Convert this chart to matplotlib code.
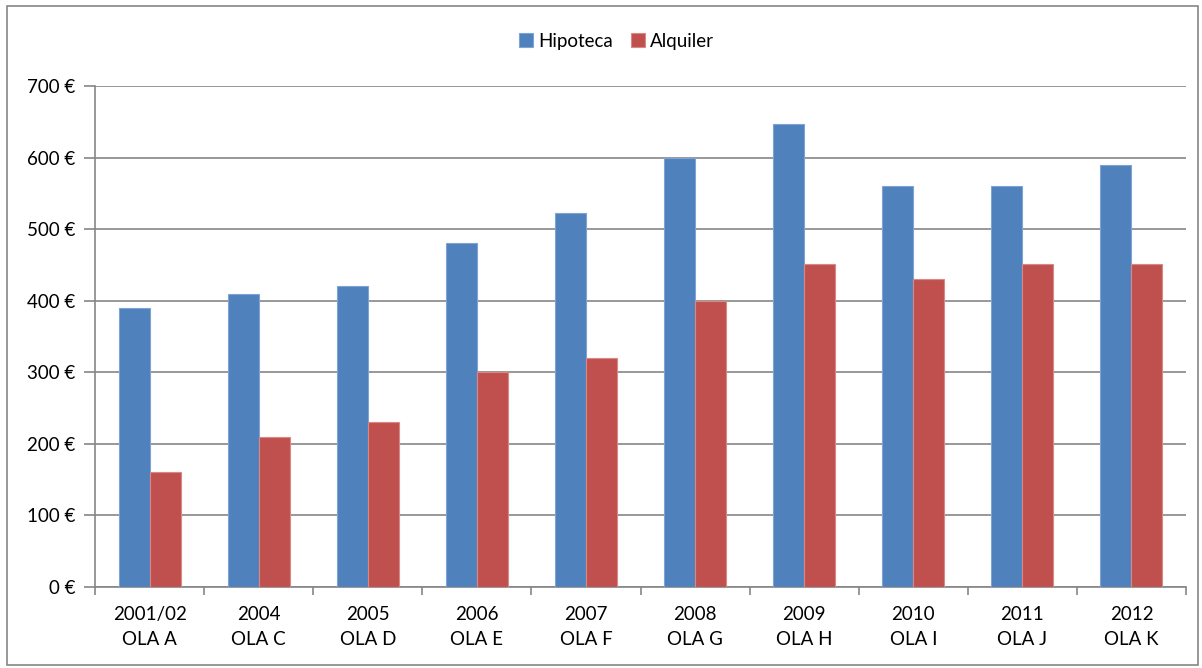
import numpy as np
import matplotlib
matplotlib.use("Agg")
import matplotlib.pyplot as plt
from matplotlib.patches import Rectangle

# datos
categorias = ["2001/02\nOLA A", "2004\nOLA C", "2005\nOLA D", "2006\nOLA E", "2007\nOLA F",
              "2008\nOLA G", "2009\nOLA H", "2010\nOLA I", "2011\nOLA J", "2012\nOLA K"]
hipoteca = [390, 410, 420, 480, 522, 599, 647, 560, 560, 589]
alquiler = [160, 210, 230, 300, 320, 400, 451, 431, 451, 451]
y_ticks = [0, 100, 200, 300, 400, 500, 600, 700]

plt.rcParams['font.family'] = ['Lato', 'DejaVu Sans']
FS = 13.5

W, H = 1202, 668
fig = plt.figure(figsize=(W / 100, H / 100), dpi=100)
# borde exterior del grafico
fig.patches.append(Rectangle((7 / W, 1 - 665 / H), (1198 - 7) / W, (665 - 6) / H,
                             transform=fig.transFigure, fill=False,
                             edgecolor="#868686", linewidth=1.2))

ax = fig.add_axes([95 / W, 1 - 587 / H, (1186 - 95) / W, (587 - 86) / H])

x = np.arange(len(categorias))
bw = 0.284
ax.bar(x - bw / 2, hipoteca, bw, color="#4F81BD", edgecolor="#7FA3D3",
       linewidth=0.8, label="Hipoteca", zorder=3)
ax.bar(x + bw / 2, alquiler, bw, color="#C0504D", edgecolor="#D98886",
       linewidth=0.8, label="Alquiler", zorder=3)

ax.set_xlim(-0.5, len(categorias) - 0.5)
ax.set_ylim(0, 700)
ax.set_yticks(y_ticks)
ax.set_yticklabels([f"{v} €" for v in y_ticks], fontsize=FS)
ax.yaxis.grid(True, color="#868686", linewidth=1.2, zorder=0)

# ticks del eje x en los limites de categoria
ax.set_xticks(np.arange(-0.5, len(categorias), 1.0))
ax.set_xticklabels([])
ax.set_xticks(x, minor=True)
ax.set_xticklabels(categorias, minor=True, fontsize=FS, linespacing=1.55)
ax.tick_params(axis="x", which="minor", length=0, pad=14)
ax.tick_params(axis="x", which="major", length=6, color="#868686", width=1.2)
ax.tick_params(axis="y", length=8, color="#868686", width=1.2, pad=6)

for s in ["top", "right"]:
    ax.spines[s].set_visible(False)
for s in ["left", "bottom"]:
    ax.spines[s].set_color("#868686")
    ax.spines[s].set_linewidth(1.2)

fig.legend(loc="center", bbox_to_anchor=(0.513, 1 - 41 / H), ncol=2, frameon=False,
           fontsize=FS, handlelength=0.75, handleheight=0.75, handletextpad=0.25,
           columnspacing=1.0)

fig.savefig("out.png", dpi=100)
